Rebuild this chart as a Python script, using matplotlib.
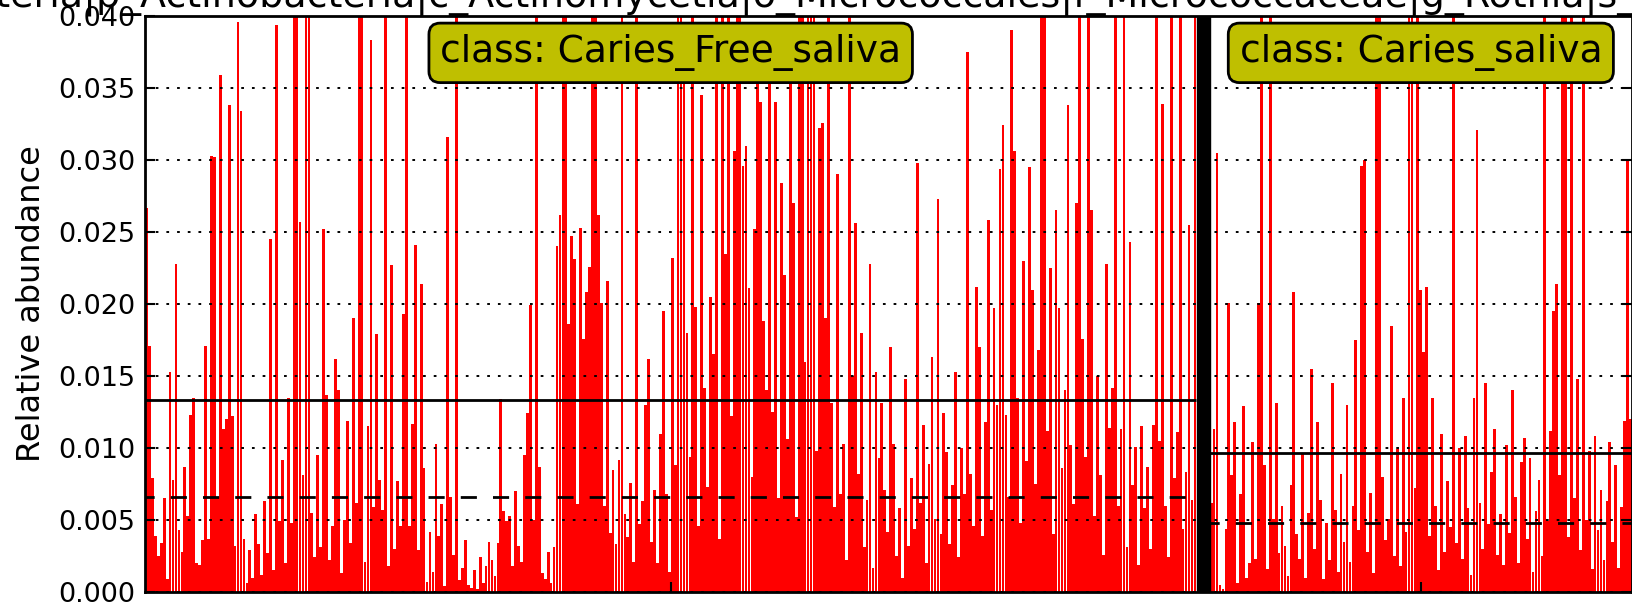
"""
LEfSe-style per-sample abundance plot for one Rothia feature,
saliva samples split by class (caries free vs caries).
"""
import numpy as np
import matplotlib
matplotlib.use("Agg")
import matplotlib.pyplot as plt
from matplotlib.ticker import FormatStrFormatter

RED, INK, BOX = "#ff0000", "#000000", "#bfbf00"

plt.rcParams.update({"font.family": "DejaVu Sans", "figure.dpi": 100})

# relative abundance per sample, in units of 1e-3 (bars above 40 run off the axes)
free_vals = [
    26.7, 17.1, 7.9, 3.9, 2.5, 3.4, 6.5, 0.9, 15.3, 7.8,
    22.8, 4.3, 2.8, 8.7, 5.3, 12.3, 13.5, 2.0, 1.9, 3.6,
    17.1, 3.7, 30.3, 30.2, 6.6, 35.9, 11.3, 12.0, 33.8, 12.2,
    3.2, 39.6, 33.4, 3.7, 0.6, 2.9, 1.0, 5.4, 3.3, 1.2,
    6.3, 2.7, 24.5, 1.5, 39.4, 4.9, 9.2, 2.0, 13.5, 4.8,
    58.0, 71.0, 25.7, 8.1, 64.0, 49.0, 5.5, 2.4, 9.5, 3.1,
    25.2, 13.7, 2.2, 4.6, 16.2, 14.0, 1.3, 5.0, 11.9, 3.4,
    19.0, 6.2, 55.0, 68.0, 2.1, 11.5, 38.3, 5.9, 17.9, 7.8,
    5.7, 47.0, 1.8, 22.7, 3.0, 7.7, 4.6, 19.3, 52.0, 4.6,
    11.7, 24.1, 2.9, 21.4, 8.6, 0.7, 4.2, 1.4, 10.3, 3.9,
    6.1, 0.4, 31.6, 6.6, 2.6, 44.0, 0.8, 1.7, 3.6, 0.5,
    0.3, 1.5, 0.2, 2.4, 0.6, 1.8, 3.5, 2.2, 1.1, 3.4,
    13.4, 5.6, 4.9, 5.3, 1.8, 7.0, 3.2, 2.1, 9.5, 12.4,
    19.9, 5.0, 61.0, 8.7, 1.3, 0.9, 2.8, 0.6, 3.1, 24.0,
    26.2, 57.0, 73.0, 18.6, 24.7, 23.1, 6.1, 25.3, 17.6, 20.8,
    22.6, 66.0, 54.0, 26.2, 20.1, 6.0, 21.6, 4.1, 8.5, 3.3,
    9.2, 48.0, 5.4, 3.8, 7.6, 2.1, 59.0, 4.7, 6.3, 13.0,
    16.2, 3.5, 7.1, 2.0, 11.0, 19.5, 6.8, 1.4, 23.2, 8.8,
    63.0, 51.0, 36.0, 18.0, 9.4, 70.0, 19.8, 4.6, 34.5, 14.2,
    7.3, 20.5, 16.5, 46.0, 3.7, 57.0, 23.5, 62.0, 12.2, 30.6,
    53.0, 75.0, 29.6, 31.0, 21.1, 8.0, 25.2, 38.1, 34.0, 18.8,
    14.0, 37.5, 12.5, 34.0, 6.5, 28.4, 22.0, 10.6, 37.8, 27.0,
    5.2, 49.0, 65.0, 16.0, 58.0, 44.0, 71.0, 9.8, 32.2, 32.6,
    19.0, 50.0, 13.1, 5.9, 29.0, 6.8, 10.3, 2.2, 60.0, 15.0,
    25.6, 8.2, 18.0, 3.1, 6.4, 22.8, 1.7, 15.3, 9.3, 13.1,
    7.1, 4.2, 17.0, 10.3, 2.5, 5.8, 1.0, 14.8, 3.2, 7.9,
    4.4, 29.8, 6.2, 11.6, 2.0, 8.9, 16.3, 5.1, 27.3, 4.0,
    12.4, 9.7, 3.3, 7.4, 15.3, 2.4, 10.0, 6.8, 37.5, 8.2,
    4.6, 21.2, 17.0, 3.9, 11.8, 25.8, 5.7, 19.7, 13.0, 29.4,
    32.4, 12.3, 6.6, 39.0, 30.6, 13.5, 4.8, 23.0, 9.1, 29.5,
    21.0, 7.5, 16.8, 56.0, 67.0, 11.2, 22.5, 4.0, 26.5, 19.7,
    8.6, 14.0, 33.8, 10.2, 6.1, 27.0, 45.0, 17.6, 9.4, 62.0,
    26.5, 5.3, 15.0, 8.1, 2.6, 22.8, 11.4, 14.2, 54.0, 6.0,
    11.3, 69.0, 3.1, 24.3, 7.4, 10.1, 1.9, 11.5, 5.8, 8.7,
    3.0, 11.6, 52.0, 10.5, 33.9, 6.0, 2.4, 47.0, 7.9, 11.1,
    58.0, 4.4, 8.3, 25.5, 6.4, 64.0,
]
caries_vals = [
    6.2, 11.3, 30.5, 0.5, 0.2, 4.4, 20.1, 8.1, 11.8, 0.6,
    6.8, 12.9, 1.0, 2.0, 10.4, 2.3, 20.1, 58.0, 8.8, 1.6,
    47.0, 5.1, 13.1, 2.7, 6.0, 3.2, 1.1, 7.4, 20.8, 4.0,
    2.3, 9.6, 1.0, 5.5, 15.5, 3.0, 11.8, 6.4, 0.9, 4.8,
    2.2, 14.5, 5.7, 1.4, 8.2, 3.5, 13.0, 2.1, 6.0, 17.5,
    4.3, 29.6, 30.0, 2.8, 6.9, 1.3, 62.0, 51.0, 8.0, 3.6,
    5.1, 18.5, 2.5, 9.9, 1.8, 13.5, 4.2, 55.0, 66.0, 7.2,
    49.0, 21.0, 16.7, 21.2, 3.9, 13.5, 6.0, 1.5, 11.0, 2.8,
    7.7, 4.5, 60.0, 3.4, 10.0, 2.3, 10.8, 5.8, 1.2, 13.5,
    32.1, 6.2, 3.0, 14.5, 4.7, 8.3, 11.3, 2.6, 5.4, 1.9,
    10.2, 4.1, 14.0, 6.6, 2.0, 9.0, 10.7, 3.7, 9.3, 1.4,
    5.6, 7.8, 2.5, 53.0, 4.9, 11.2, 19.5, 21.4, 8.1, 45.0,
    57.0, 3.8, 64.0, 6.5, 14.8, 2.9, 50.0, 5.0, 9.8, 1.6,
    10.8, 4.3, 7.1, 2.2, 6.3, 10.4, 3.5, 8.8, 1.7, 5.9,
    11.9, 29.9, 12.0,
]
class_names = ["Caries_Free_saliva", "Caries_saliva"]
class_means = [13.33, 9.63]      # 1e-3, solid lines
class_medians = [6.63, 4.77]     # 1e-3, dashed lines
yticks = [0.000, 0.005, 0.010, 0.015, 0.020, 0.025, 0.030, 0.035, 0.040]
title_head = "k_Bacteria|p"
title_tail = ("_Actinobacteria|c_Actinomycetia|o_Micrococcales|"
              "f_Micrococcaceae|g_Rothia|s_Rothia_mucilaginosa")

W, H = 1633, 605
fig = plt.figure(figsize=(W / 100, H / 100), dpi=100)
ax = fig.add_axes([145 / W, 13 / H, 1487 / W, 576 / H])

SEP = 4.5  # width of the black class divider, in sample slots
n1, n2 = len(free_vals), len(caries_vals)
start2 = n1 - 0.5 + SEP
x1 = np.arange(n1)
x2 = start2 + 0.5 + np.arange(n2)
xmax = start2 + n2

ax.bar(x1, np.array(free_vals) / 1000, width=0.94, color=RED, linewidth=0, zorder=1)
ax.bar(x2, np.array(caries_vals) / 1000, width=0.94, color=RED, linewidth=0, zorder=1)
ax.axvspan(n1 - 0.4, start2, color=INK, zorder=3)

spans = [(-0.5, n1 - 0.5), (start2, xmax)]
for (a, b), m, md in zip(spans, class_means, class_medians):
    ax.hlines(m / 1000, a, b, color=INK, linewidth=2, zorder=4)
    ax.hlines(md / 1000, a, b, color=INK, linewidth=2, zorder=4,
              linestyle=(2.5, (5.8, 5.8)))

for (a, b), name in zip(spans, class_names):
    ax.text((a + b) / 2, 0.936, f"class: {name}", transform=ax.get_xaxis_transform(),
            ha="center", va="center", fontsize=27, color=INK, zorder=6,
            bbox=dict(boxstyle="round,pad=0.3", facecolor=BOX, edgecolor=INK, linewidth=2))

ax.set_xlim(-0.5, xmax)
ax.set_ylim(0, 0.04)
ax.set_yticks(yticks)
ax.yaxis.set_major_formatter(FormatStrFormatter("%.3f"))
ax.set_xticks([(a + b) / 2 for a, b in spans])
ax.set_xticklabels([])
ax.yaxis.grid(True, color=INK, linewidth=1.4, linestyle=(0, (1.4, 4.1)))
ax.set_axisbelow(False)
ax.tick_params(axis="y", direction="in", length=7, width=1.5, right=True,
               labelsize=19.5, pad=7)
ax.tick_params(axis="x", direction="in", length=7, width=1.5, top=False)
for s in ax.spines.values():
    s.set_linewidth(2)
    s.set_zorder(5)

ax.set_ylabel("Relative abundance", fontsize=23)
ax.yaxis.set_label_coords(-0.066, 0.5)

# long feature name sits mostly above the canvas, as in the source figure
fig.text(121 / W, 1 - 6 / H, title_head, ha="right", va="baseline", fontsize=27.4)
fig.text(121 / W, 1 - 6 / H, title_tail, ha="left", va="baseline", fontsize=27.4)

fig.savefig("out.png", dpi=100, facecolor="white")
